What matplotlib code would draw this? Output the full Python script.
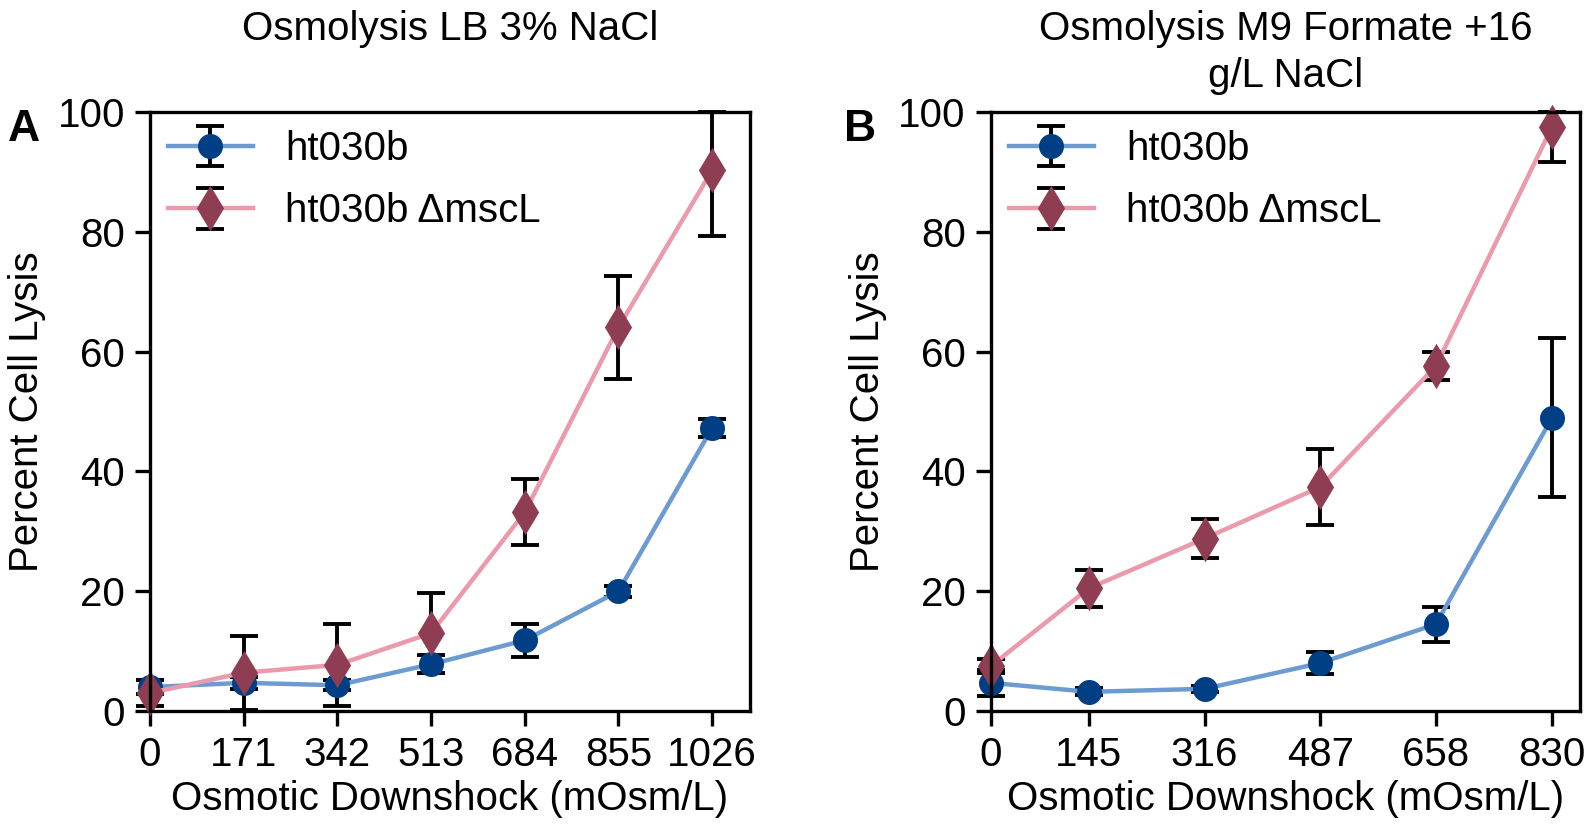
import numpy as np
import matplotlib
matplotlib.use("Agg")
import matplotlib.pyplot as plt

plt.rcParams['font.family'] = ['Liberation Sans', 'DejaVu Sans']
plt.rcParams['font.size'] = 14.5

# ----- data: panel A (LB 3% NaCl) -----
xA = [0, 171, 342, 513, 684, 855, 1026]
wtA = [4.0, 4.7, 4.3, 7.8, 11.8, 20.0, 47.3]
wtA_err = [1.2, 1.0, 0.8, 1.5, 2.8, 0.9, 1.5]
mscA = [3.0, 6.4, 7.7, 13.0, 33.2, 64.1, 90.3]
mscA_err = [2.2, 6.2, 6.9, 6.7, 5.5, 8.6, 11.0]

# ----- data: panel B (M9 formate +16 g/L NaCl) -----
xB = [0, 145, 316, 487, 658, 830]
wtB = [4.7, 3.2, 3.7, 8.0, 14.5, 49.0]
wtB_err = [2.2, 0.6, 0.5, 1.8, 2.9, 13.3]
mscB = [7.5, 20.5, 28.8, 37.4, 57.6, 97.6]
mscB_err = [1.2, 3.1, 3.3, 6.4, 2.3, 5.9]

labels = ["ht030b", "ht030b \u0394mscL"]
line_cols = ["#6b9bd0", "#eb9aab"]
mark_cols = ["#003f86", "#8e3d52"]

fig = plt.figure(figsize=(7.965, 4.17), dpi=200)
axA = fig.add_axes([0.0942, 0.1475, 0.3766, 0.718])
axB = fig.add_axes([0.6220, 0.1475, 0.3698, 0.718])

def panel(ax, x, series, xmax):
    for (y, e), lab, lc, mc, mk, ms in zip(series, labels, line_cols, mark_cols,
                                            ["o", "d"], [8, 10]):
        y = np.array(y); e = np.array(e)
        up = np.minimum(y + e, 100) - y      # lysis capped at 100 %
        eb = ax.errorbar(x, y, yerr=[e, up], color=lc, lw=1.6, marker=mk, ms=ms,
                         mfc=mc, mec=mc, ecolor="black", elinewidth=1.4,
                         capsize=5, capthick=1.4, label=lab)
        eb[0].set_clip_on(False)
        for c in eb[1]:
            c.set_clip_on(False)
    ax.set_xlim(0, xmax)
    ax.set_ylim(0, 100)
    ax.set_xticks(x)
    ax.set_yticks([0, 20, 40, 60, 80, 100])
    ax.tick_params(length=5.5, width=1.2, labelsize=14.5)
    for s in ax.spines.values():
        s.set_linewidth(1.2)
    ax.set_xlabel("Osmotic Downshock (mOsm/L)", fontsize=14.5, labelpad=2)
    ax.set_ylabel("Percent Cell Lysis", fontsize=14.5)
    ax.legend(loc="upper left", frameon=False, fontsize=14.5, handlelength=2.1,
              handletextpad=0.8, labelspacing=0.6, borderaxespad=0.05)

panel(axA, xA, [(wtA, wtA_err), (mscA, mscA_err)], 1095)
panel(axB, xB, [(wtB, wtB_err), (mscB, mscB_err)], 871)

fig.text(0.2825, 0.988, "Osmolysis LB 3% NaCl", ha="center", va="top", fontsize=14.5)
fig.text(0.807, 0.988, "Osmolysis M9 Formate +16\ng/L NaCl", ha="center", va="top",
         fontsize=14.5, linespacing=1.3)
fig.text(0.005, 0.845, "A", fontsize=16, fontweight="bold", va="center")
fig.text(0.530, 0.845, "B", fontsize=16, fontweight="bold", va="center")

fig.savefig("out.png", dpi=200)
